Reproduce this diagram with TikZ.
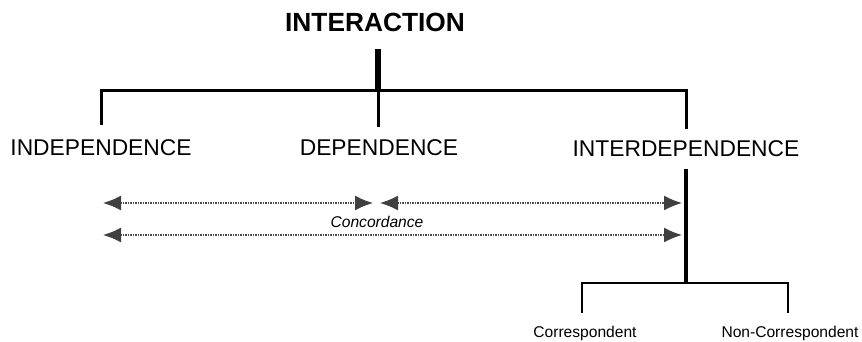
\documentclass[tikz,border=0pt]{standalone}
\usepackage{fontspec}
\setmainfont{Liberation Sans}
\usetikzlibrary{arrows.meta}
\begin{document}
\begin{tikzpicture}[x=1pt,y=-1pt,
  title/.style={anchor=base,inner sep=0pt,font=\fontsize{26.3}{30}\selectfont\bfseries},
  lvl/.style={anchor=base,inner sep=0pt,font=\fontsize{22.8}{26}\selectfont},
  small/.style={anchor=base,inner sep=0pt,font=\fontsize{15.6}{18}\selectfont},
  tree/.style={line width=3pt,line cap=rect},
  thin tree/.style={line width=2.4pt,line cap=rect},
  conc/.style={black!70,line width=1.4pt,dash pattern=on 1.6pt off 0.9pt,
    {Latex[length=18pt,width=15pt,fill=black!75,color=black!75]}-{Latex[length=18pt,width=15pt,fill=black!75,color=black!75]}}
  ]
\useasboundingbox (0,0) rectangle (862,341);
% titles
\node[title] (inter) at (375,31) {INTERACTION};
\node[lvl] (indep) at (101,155) {INDEPENDENCE};
\node[lvl] (dep) at (379,155) {DEPENDENCE};
\node[lvl] (interdep) at (686,156) {INTERDEPENDENCE};
\node[small,font=\fontsize{15.6}{18}\selectfont\itshape] (concord) at (377,227) {Concordance};
\node[small] (corr) at (585,337) {Correspondent};
\node[small] (noncorr) at (790,337) {Non-Correspondent};
% tree coordinates
\coordinate (stubtop) at (378,49);
\coordinate (hub) at (378,90);
\coordinate (hl) at (101,90);
\coordinate (hr) at (686,90);
\coordinate (indeptop) at (101,123);
\coordinate (deptop) at (378,125);
\coordinate (interdeptop) at (686,127);
\coordinate (trunktop) at (686,169);
\coordinate (trunkbot) at (686,283);
\coordinate (bl) at (582,283);
\coordinate (br) at (788,283);
\coordinate (corrtop) at (582,312);
\coordinate (noncorrtop) at (788,312);
% arrow ends
\coordinate (a1l) at (103,203);
\coordinate (a1r) at (373,203);
\coordinate (a2l) at (380,203);
\coordinate (a2r) at (682,203);
\coordinate (a3l) at (103,235);
\coordinate (a3r) at (682,235);
% tree
\draw[line width=6pt] (stubtop) -- (hub);
\draw[tree] (indeptop) -- (hl) -- (hr) -- (interdeptop);
\draw[tree] (hub) -- (deptop);
\draw[line width=4.5pt] (trunktop) -- (trunkbot);
\draw[thin tree] (corrtop) -- (bl) -- (br) -- (noncorrtop);
% concordance arrows
\draw[conc] (a1l) -- (a1r);
\draw[conc] (a2l) -- (a2r);
\draw[conc] (a3l) -- (a3r);
\end{tikzpicture}
\end{document}
